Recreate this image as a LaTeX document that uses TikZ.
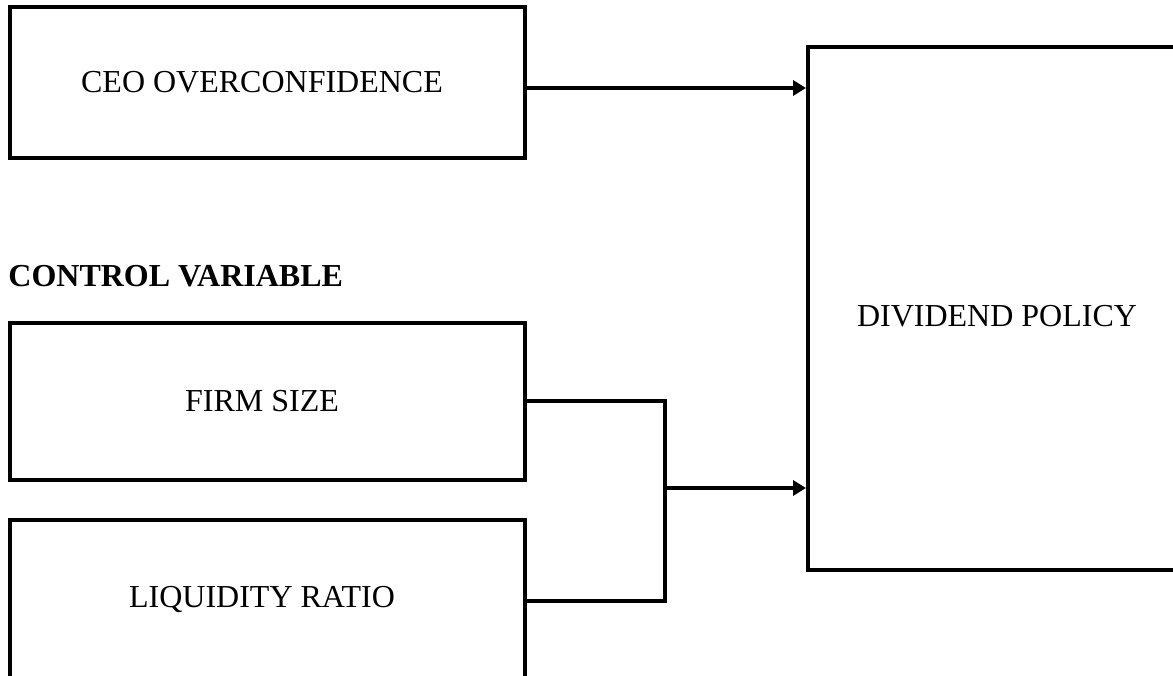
\documentclass[tikz,border=0pt]{standalone}
\usepackage{fontspec}
\setmainfont{Liberation Serif}
\usetikzlibrary{arrows.meta}
\begin{document}
\begin{tikzpicture}[x=0.5pt,y=-0.5pt,
  box/.style={draw=black,line width=2pt,rectangle,inner sep=0pt},
  boxtext/.style={font=\fontsize{16}{19}\selectfont,xshift=-2.75pt},
  conn/.style={draw=black,line width=2pt},
  arr/.style={conn,-{Triangle[length=6.5pt,width=7.5pt]}},
  title/.style={font=\fontsize{16}{19}\selectfont\bfseries,inner sep=0pt,anchor=west}]
\useasboundingbox (0,0) rectangle (1173,675);
\clip (0,0) rectangle (1173,675);
\fill[white] (0,0) rectangle (1173,675);
\node[box,minimum width=515*0.5pt,minimum height=151*0.5pt,
  label={[boxtext]center:CEO OVERCONFIDENCE}] (ceo) at (267.5,82.5) {};
\node[title] (ctrl) at (8,276) {CONTROL VARIABLE};
\node[box,minimum width=515*0.5pt,minimum height=157*0.5pt,
  label={[boxtext]center:FIRM SIZE}] (firm) at (267.5,401.5) {};
\node[box,minimum width=515*0.5pt,minimum height=160*0.5pt,
  label={[boxtext,yshift=0.5pt]center:LIQUIDITY RATIO}] (liq) at (267.5,600) {};
\node[box,minimum width=402*0.5pt,minimum height=523*0.5pt,
  label={[boxtext,xshift=-3.25pt,yshift=-4pt]center:DIVIDEND POLICY}] (div) at (1009,308.5) {};
\coordinate (j) at (665,488);
\draw[arr] (ceo.east |- 0,88) -- (div.west |- 0,88);
\draw[conn] (firm.east |- 0,401) -- (j |- 0,401) -- (j |- 0,601) -- (liq.east |- 0,601);
\draw[arr] (j) -- (div.west |- j);
\end{tikzpicture}
\end{document}
